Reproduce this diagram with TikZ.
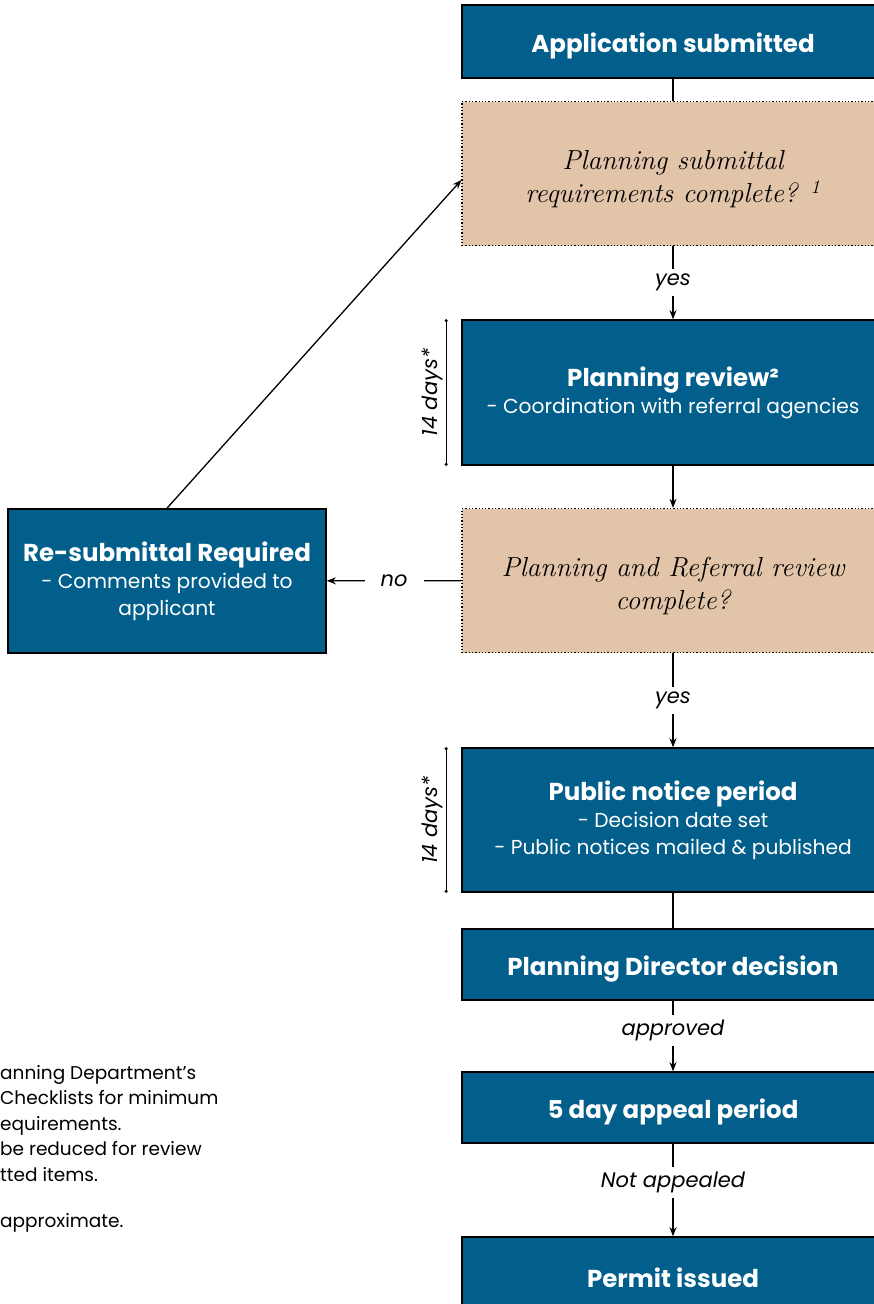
\documentclass[tikz,border=0pt]{standalone}
\usepackage{fontspec}
\setsansfont{Poppins}
\usepackage{xcolor}
\usepackage{tikz}
\usetikzlibrary{arrows.meta,positioning}
\definecolor{boxblue}{RGB}{2,94,138}
\definecolor{checktan}{RGB}{226,196,168}
\newcommand{\hd}[1]{{\bfseries\fontsize{24.5}{28}\selectfont #1}}

\begin{document}
\begin{tikzpicture}
		[x=1pt,y=-1pt,
		stepbox/.style={draw=black,line width=1.6pt,fill=boxblue,text=white,align=center,
			font=\sffamily\fontsize{20.2}{27}\selectfont,minimum width=422pt,inner sep=0pt,
			execute at begin node={\rule{0pt}{28pt}}},
		checkbox/.style={draw=black,dotted,line width=1.3pt,fill=checktan,align=center,
			font=\itshape\fontsize{27.5}{33}\selectfont,minimum width=422pt,minimum height=144pt},
		flow/.style={-{Stealth[length=9pt,width=7pt]},line width=1.3pt},
		plain/.style={line width=1.3pt},
		lbl/.style={fill=white,font=\sffamily\itshape\fontsize{21}{24}\selectfont,inner sep=5pt},
		span/.style={{Circle[length=3pt]}-{Circle[length=3pt]},line width=1pt}]
		\useasboundingbox (0,0) rectangle (874,1304);
		\clip (0,0) rectangle (874,1304);
		\node[stepbox,minimum height=73pt] (app) at (673,41.5) {\hd{Application submitted}};
		\node[checkbox] (check1) at (673,173.5)
			{\rule{0pt}{30pt}Planning submittal\\requirements complete? \textsuperscript{1}};
		\node[stepbox,minimum height=145pt] (review) at (673,392.5)
			{\hd{Planning review²}\\- Coordination with referral agencies};
		\node[checkbox] (check2) at (673,580.5) {\rule{0pt}{30pt}Planning and Referral review\\complete?};
		\node[stepbox,minimum height=144pt,minimum width=318pt] (resubmit) at (167,581)
			{\hd{Re-submittal Required}\\- Comments provided to\\applicant};
		\node[stepbox,minimum height=144pt] (notice) at (673,820)
			{\hd{Public notice period}\\- Decision date set\\- Public notices mailed \& published};
		\node[stepbox,minimum height=71pt] (director) at (673,964.5) {\hd{Planning Director decision}};
		\node[stepbox,minimum height=71pt] (appeal) at (673,1107.5) {\hd{5 day appeal period}};
		\node[stepbox,minimum height=73pt] (permit) at (673,1273.5) {\hd{Permit issued}};
		\node[anchor=north west,align=left,inner sep=0pt,
			font=\sffamily\fontsize{18.5}{25.5}\selectfont] (notes) at (0,1065)
			{anning Department's\\Checklists for minimum\\equirements.\\be reduced for review\\tted items.\\[21pt]approximate.};

		\draw[plain] (app) -- (check1);
		\draw[flow] (check1) -- node[lbl]{yes} (review);
		\draw[flow] (review) -- (check2);
		\draw[flow] (check2) -- node[lbl,inner xsep=16pt]{no} (resubmit);
		\draw[flow] (resubmit.north) -- ([yshift=-6.5pt]check1.west);
		\draw[flow] (check2) -- node[lbl]{yes} (notice);
		\draw[plain] (notice) -- (director);
		\draw[flow] (director) -- node[lbl,pos=0.42]{approved} (appeal);
		\draw[flow] (appeal) -- node[lbl,pos=0.42]{Not appealed} (permit);
		\draw[span] ([xshift=-15pt]review.south west) -- node[lbl,sloped,above,fill=none,inner sep=3pt]{14 days*}
			([xshift=-15pt]review.north west);
		\draw[span] ([xshift=-15pt]notice.south west) -- node[lbl,sloped,above,fill=none,inner sep=3pt]{14 days*}
			([xshift=-15pt]notice.north west);
\end{tikzpicture}
\end{document}
